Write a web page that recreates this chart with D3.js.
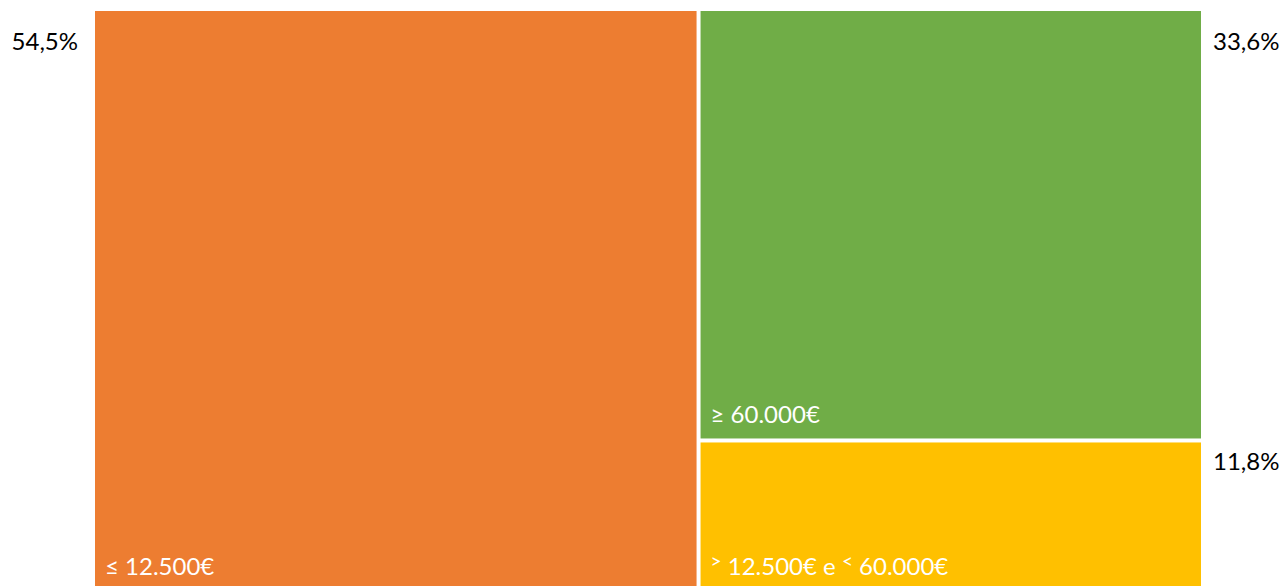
<!DOCTYPE html>
<html>
<head>
<meta charset="utf-8">
<script src="https://cdn.jsdelivr.net/npm/d3@7"></script>
<style>
  body { margin: 0; background: #fff; }
  svg { display: block; }
  text { font-family: Lato, "Open Sans", sans-serif; }
</style>
</head>
<body>
<svg id="canvas"></svg>
<script>
// Data
var categories = ['≤ 12.500€', '≥ 60.000€', '> 12.500€ e < 60.000€'];
var shares = [54.5, 33.6, 11.8];
var shareLabels = ['54,5%', '33,6%', '11,8%'];
var colors = ['#ED7D31', '#70AD47', '#FFC000'];

var canvasWidth = 1284;
var canvasHeight = 586;

// Treemap area
var area = { left: 95, top: 11, width: 1106, height: 579 };

var svg = d3.select('#canvas')
  .attr('width', canvasWidth)
  .attr('height', canvasHeight);

var root = d3.hierarchy({
  children: categories.map(function(c, i) {
    return { name: c, value: shares[i], label: shareLabels[i], color: colors[i] };
  })
})
  .sum(function(d) { return d.value || 0; })
  .sort(function(a, b) { return b.value - a.value; });

d3.treemap()
  .size([area.width, area.height])
  .paddingInner(4)(root);

var leaves = root.leaves();

var cells = svg.append('g')
  .attr('transform', 'translate(' + area.left + ',' + area.top + ')')
  .selectAll('g')
  .data(leaves)
  .enter()
  .append('g');

cells.append('rect')
  .attr('x', function(d) { return d.x0; })
  .attr('y', function(d) { return d.y0; })
  .attr('width', function(d) { return d.x1 - d.x0; })
  .attr('height', function(d) { return d.y1 - d.y0; })
  .attr('fill', function(d) { return d.data.color; });

// Category labels, bottom left inside each cell
cells.append('text')
  .attr('x', function(d) { return d.x0 + 10; })
  .attr('y', function(d) { return d.y1 - 15; })
  .attr('fill', '#fff')
  .attr('font-size', 24)
  .each(function(d) {
    var t = d3.select(this);
    var name = d.data.name;
    // small raised comparison signs for the middle band
    if (name.charAt(0) === '>') {
      var parts = name.split(/([<>])/).filter(function(p) { return p !== ''; });
      parts.forEach(function(p) {
        if (p === '<' || p === '>') {
          t.append('tspan').attr('font-size', 19).attr('dy', -7).text(p);
        } else {
          t.append('tspan').attr('font-size', 24).attr('dy', 7).text(p);
        }
      });
    } else {
      t.text(name);
    }
  });

// Percent labels outside the cells
cells.append('text')
  .attr('x', function(d) { return d.x0 === 0 ? d.x0 - 17 : d.x1 + 12; })
  .attr('y', function(d) { return d.y0 === 0 ? d.y0 + 39 : d.y0 + 28; })
  .attr('text-anchor', function(d) { return d.x0 === 0 ? 'end' : 'start'; })
  .attr('fill', '#000')
  .attr('font-size', 24)
  .text(function(d) { return d.data.label; });
</script>
</body>
</html>
